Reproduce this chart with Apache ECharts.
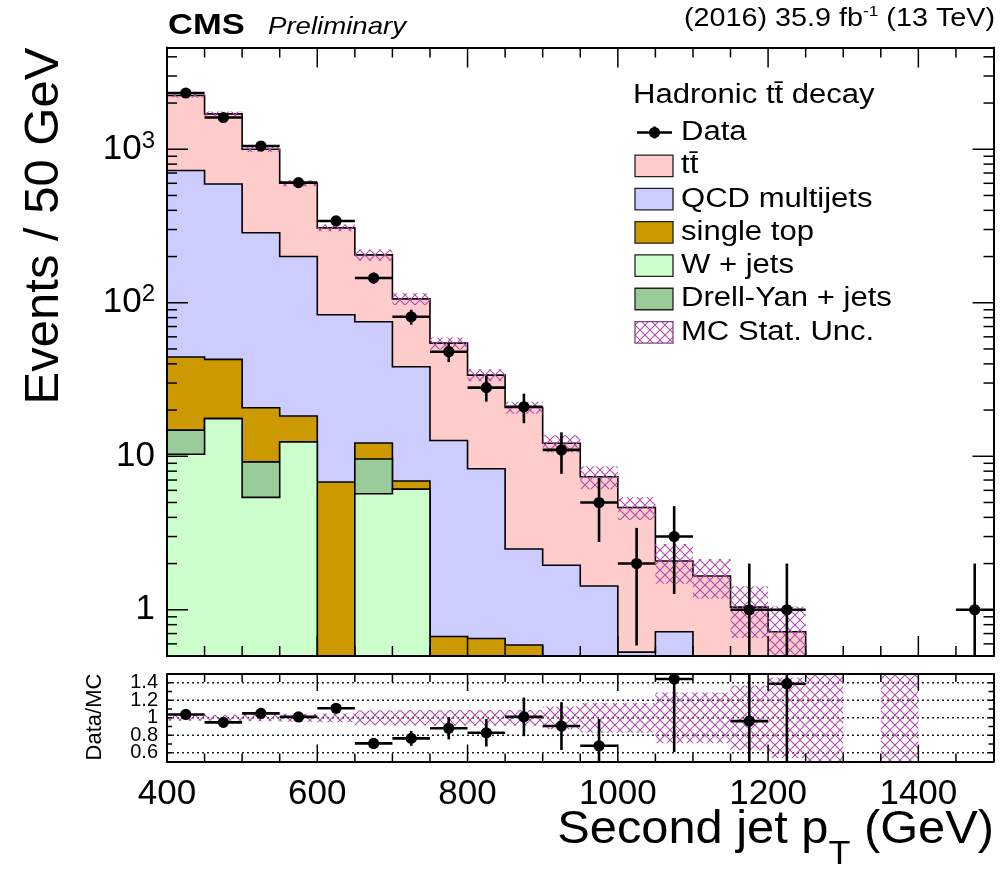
<!DOCTYPE html>
<html>
<head>
<meta charset="utf-8">
<title>Second jet pT</title>
<script src="https://cdn.jsdelivr.net/npm/echarts@6/dist/echarts.min.js"></script>
<style>
  html, body { margin: 0; padding: 0; background: #ffffff; }
  #chart { width: 1003px; height: 874px; }
</style>
</head>
<body>
<div id="chart"></div>
<script>
// ---------------------------------------------------------------------------
// Histogram content: 22 bins of 50 GeV from 400 to 1500 GeV
// ---------------------------------------------------------------------------
const binLow = [400, 450, 500, 550, 600, 650, 700, 750, 800, 850, 900,
                950, 1000, 1050, 1100, 1150, 1200, 1250, 1300, 1350, 1400, 1450];

// observed events per bin
const dataCounts = [2325, 1610, 1050, 606, 341, 145, 81, 48, 28, 21, 11,
                    5, 2, 3, 0, 1, 1, 0, 0, 0, 0, 1];

// simulated contributions (events per bin)
const ttbar     = [1514, 1106, 714, 400, 224, 130, 67.7, 41.9, 25.5, 18.3, 10.2,
                   5.92, 4.11, 1.36, 1.66, 1.04, 0.72, 0.25, 0, 0.25, 0, 0];
const qcd       = [682, 551, 265, 182, 76.8, 63, 31.4, 12.0, 7.65, 1.9, 1.95,
                   1.43, 0.53, 0.72, 0, 0, 0, 0, 0, 0, 0, 0];
const singleTop = [29.5, 25.2, 11.5, 5.9, 6.8, 2.6, 0.8, 0.67, 0.65, 0.59, 0,
                   0, 0, 0, 0, 0, 0, 0, 0, 0, 0, 0];
const wJets     = [10.3, 17.6, 5.4, 12.4, 0, 5.7, 6.1, 0, 0, 0, 0,
                   0, 0, 0, 0, 0, 0, 0, 0, 0, 0, 0];
const dyJets    = [4.5, 0, 3.8, 0, 0, 3.9, 0, 0, 0, 0, 0,
                   0, 0, 0, 0, 0, 0, 0, 0, 0, 0, 0];

// relative MC statistical uncertainty per bin
const mcStatRel = [0.033, 0.035, 0.04, 0.045, 0.05, 0.085, 0.088, 0.09, 0.09, 0.09, 0.13,
                   0.17, 0.17, 0.29, 0.29, 0.37, 0.46, 1.0, 0, 1.0, 0, 0];

// axis tick values and labels
const xLabelValues = [400, 600, 800, 1000, 1200, 1400];
const xMajorTicks  = [600, 800, 1000, 1200, 1400];
const xMinorTicks  = [450, 500, 550, 650, 700, 750, 850, 900, 950, 1050, 1100, 1150,
                      1250, 1300, 1350, 1450];
const yMajorTicks  = [1, 10, 100, 1000];
const yMinorTicks  = [0.6, 0.7, 0.8, 0.9, 2, 3, 4, 5, 6, 7, 8, 9, 20, 30, 40, 50, 60, 70, 80, 90,
                      200, 300, 400, 500, 600, 700, 800, 900, 2000, 3000, 4000];
const ratioTicks   = [0.6, 0.7, 0.8, 0.9, 1.0, 1.1, 1.2, 1.3, 1.4];
const ratioGrid    = [0.6, 0.8, 1.0, 1.2, 1.4];
const ratioLabels  = { 6: '0.6', 8: '0.8', 10: '1', 12: '1.2', 14: '1.4' };

// ---------------------------------------------------------------------------
const FONT = '"Liberation Sans", Arial, Helvetica, sans-serif';
const X_MIN = 400, X_MAX = 1500, BIN_W = 50;
const Y_MIN = 0.5, Y_MAX = 4600;
const R_MIN = 0.5, R_MAX = 1.5;
const HATCH = '#b04ab0';
const STRETCH = 1.15;   // width factor for the free-standing texts

// stack, from the bottom layer up
const stackLayers = [
  { name: 'W + jets',         values: wJets,     color: '#ccffcc' },
  { name: 'Drell-Yan + jets', values: dyJets,    color: '#99cc99' },
  { name: 'single top',       values: singleTop, color: '#cc9900' },
  { name: 'QCD multijets',    values: qcd,       color: '#ccccff' },
  { name: 't\u0074\u0304',    values: ttbar,     color: '#ffcccc' }
];
// legend order of the simulated samples
const legendOrder = ['t\u0074\u0304', 'QCD multijets', 'single top', 'W + jets', 'Drell-Yan + jets'];

let running = binLow.map(() => 0);
stackLayers.forEach(l => {
  running = running.map((s, i) => s + l.values[i]);
  l.cum = running.slice();
});
const mcTotal = stackLayers[stackLayers.length - 1].cum;

const clampY = v => Math.min(Math.max(v, Y_MIN), Y_MAX);
const clampR = v => Math.min(Math.max(v, R_MIN), R_MAX);

// cross-hatch tile for the MC statistical uncertainty
function makeHatch() {
  const c = document.createElement('canvas');
  c.width = 10; c.height = 10;
  const g = c.getContext('2d');
  g.strokeStyle = HATCH; g.lineWidth = 1.1;
  g.beginPath();
  g.moveTo(-1, -1); g.lineTo(11, 11);
  g.moveTo(11, -1); g.lineTo(-1, 11);
  g.stroke();
  return c;
}
const hatchFill = { image: makeHatch(), repeat: 'repeat' };

// ---------------------------------------------------------------------------
// render helpers
// ---------------------------------------------------------------------------
function renderLayer(params, api) {
  const layer = stackLayers[api.value(2)];
  const pts = [api.coord([X_MIN, Y_MIN])];
  binLow.forEach((lo, i) => {
    const v = clampY(layer.cum[i]);
    pts.push(api.coord([lo, v]));
    pts.push(api.coord([lo + BIN_W, v]));
  });
  pts.push(api.coord([X_MAX, Y_MIN]));
  return {
    type: 'group',
    children: [
      { type: 'polygon', shape: { points: pts }, style: { fill: layer.color } },
      { type: 'polyline', shape: { points: pts }, style: { stroke: '#000', lineWidth: 1.6, fill: null } }
    ]
  };
}

function renderUncMain(params, api) {
  const i = api.value(2);
  const t = mcTotal[i], u = mcStatRel[i];
  const top = clampY(t * (1 + u)), bot = clampY(t * (1 - u));
  if (top <= bot) return null;
  const p1 = api.coord([binLow[i], top]);
  const p2 = api.coord([binLow[i] + BIN_W, bot]);
  return { type: 'rect', shape: { x: p1[0], y: p1[1], width: p2[0] - p1[0], height: p2[1] - p1[1] },
           style: { fill: hatchFill } };
}

function renderUncRatio(params, api) {
  const i = api.value(2);
  const u = mcStatRel[i];
  const top = clampR(1 + u), bot = clampR(1 - u);
  const p1 = api.coord([binLow[i], top]);
  const p2 = api.coord([binLow[i] + BIN_W, bot]);
  return { type: 'rect', shape: { x: p1[0], y: p1[1], width: p2[0] - p1[0], height: p2[1] - p1[1] },
           style: { fill: hatchFill } };
}

function pointMarker(api, xc, lo, hi, y, yErrLo, yErrHi) {
  const pL = api.coord([lo, y]), pR = api.coord([hi, y]);
  const pC = api.coord([xc, y]);
  const pT = api.coord([xc, yErrHi]), pB = api.coord([xc, yErrLo]);
  const st = { stroke: '#000', lineWidth: 2.6 };
  return {
    type: 'group',
    children: [
      { type: 'line', shape: { x1: pL[0], y1: pL[1], x2: pR[0], y2: pR[1] }, style: st },
      { type: 'line', shape: { x1: pT[0], y1: pT[1], x2: pB[0], y2: pB[1] }, style: st },
      { type: 'circle', shape: { cx: pC[0], cy: pC[1], r: 5.6 }, style: { fill: '#000' } }
    ]
  };
}

function renderData(params, api) {
  const i = api.value(2);
  const n = dataCounts[i], e = Math.sqrt(n);
  const lo = binLow[i];
  return pointMarker(api, lo + BIN_W / 2, lo, lo + BIN_W, n, clampY(n - e), clampY(n + e));
}

function renderRatio(params, api) {
  const i = api.value(2);
  const n = dataCounts[i];
  const r = n / mcTotal[i], e = r / Math.sqrt(n);
  const lo = binLow[i];
  return pointMarker(api, lo + BIN_W / 2, lo, lo + BIN_W, r, clampR(r - e), clampR(r + e));
}

function frameTicks(api, o) {
  const lines = [];
  const st = { stroke: '#000', lineWidth: 1.5 };
  const add = (x1, y1, x2, y2) => lines.push({ type: 'line', shape: { x1, y1, x2, y2 }, style: st });
  const bl = api.coord([X_MIN, o.yMin]), tr = api.coord([X_MAX, o.yMax]);
  [[o.xMajor, o.xLenMajor], [o.xMinor, o.xLenMinor]].forEach(([vals, len]) => vals.forEach(v => {
    const x = api.coord([v, o.yMin])[0];
    add(x, bl[1], x, bl[1] - len);
    add(x, tr[1], x, tr[1] + len);
  }));
  [[o.yMajor, o.yLenMajor], [o.yMinor, o.yLenMinor]].forEach(([vals, len]) => vals.forEach(v => {
    const y = api.coord([X_MIN, v])[1];
    add(bl[0], y, bl[0] + len, y);
    add(tr[0], y, tr[0] - len, y);
  }));
  return { type: 'group', children: lines };
}

function renderRatioGrid(params, api) {
  const v = api.value(1);
  const a = api.coord([X_MIN, v]), b = api.coord([X_MAX, v]);
  return { type: 'line', shape: { x1: a[0], y1: a[1], x2: b[0], y2: b[1] },
           style: { stroke: '#222', lineWidth: 1.4, lineDash: [2, 3] } };
}

// ---------------------------------------------------------------------------
// free texts (header, titles, legend)
// ---------------------------------------------------------------------------
const mctx = document.createElement('canvas').getContext('2d');
function textW(str, font) { mctx.font = font; return mctx.measureText(str).width; }

function txt(x, y, text, font, align, stretch) {
  return {
    type: 'text', x: x, y: y, scaleX: stretch || STRETCH, silent: true,
    style: { text: text, font: font, fill: '#000', align: align || 'left', textAlign: align || 'left',
             verticalAlign: 'middle', textVerticalAlign: 'middle' }
  };
}

const graphics = [];

// header
graphics.push(txt(168, 26, 'CMS', 'bold 30px ' + FONT));
graphics.push(txt(268, 27, 'Preliminary', 'italic 24px ' + FONT));
(function () {
  const fMain = '25px ' + FONT, fSup = '15px ' + FONT;
  const a = '(2016) 35.9 fb', s = '-1', b = ' (13 TeV)';
  const wa = textW(a, fMain) * STRETCH, ws = textW(s, fSup) * STRETCH, wb = textW(b, fMain) * STRETCH;
  const right = 995, x0 = right - wa - ws - wb;
  graphics.push(txt(x0, 19, a, fMain));
  graphics.push(txt(x0 + wa, 12, s, fSup));
  graphics.push(txt(x0 + wa + ws, 19, b, fMain));
})();

// axis titles
graphics.push({
  type: 'text', x: 44, y: 226, rotation: Math.PI / 2, silent: true,
  style: { text: 'Events / 50 GeV', font: '49px ' + FONT, fill: '#000',
           align: 'center', textAlign: 'center', verticalAlign: 'middle', textVerticalAlign: 'middle' }
});
graphics.push({
  type: 'text', x: 95, y: 717, rotation: Math.PI / 2, silent: true,
  style: { text: 'Data/MC', font: '22px ' + FONT, fill: '#000',
           align: 'center', textAlign: 'center', verticalAlign: 'middle', textVerticalAlign: 'middle' }
});
(function () {
  const k = 1.06;
  const fMain = '46px ' + FONT, fSub = '34px ' + FONT;
  const a = 'Second jet p', s = 'T', b = ' (GeV)';
  const wa = textW(a, fMain) * k, ws = textW(s, fSub) * k, wb = textW(b, fMain) * k;
  const right = 994, x0 = right - wa - ws - wb;
  graphics.push(txt(x0, 830, a, fMain, 'left', k));
  graphics.push(txt(x0 + wa, 855, s, fSub, 'left', k));
  graphics.push(txt(x0 + wa + ws, 830, b, fMain, 'left', k));
})();

// legend
(function () {
  const fL = '27px ' + FONT;
  const boxX = 635, boxW = 38, boxH = 21.5, textX = 681;
  graphics.push(txt(633, 96, 'Hadronic t\u0074\u0304 decay', fL));
  const rowY0 = 132.5, dy = 33.3;
  // data entry
  graphics.push({ type: 'line', silent: true, shape: { x1: 637, y1: rowY0, x2: 672, y2: rowY0 },
                  style: { stroke: '#000', lineWidth: 2.6 } });
  graphics.push({ type: 'line', silent: true, shape: { x1: 654.5, y1: rowY0 - 6, x2: 654.5, y2: rowY0 + 6 },
                  style: { stroke: '#000', lineWidth: 2.6 } });
  graphics.push({ type: 'circle', silent: true, shape: { cx: 654.5, cy: rowY0, r: 5.6 }, style: { fill: '#000' } });
  graphics.push(txt(textX, rowY0, 'Data', fL));
  const entries = legendOrder.map(name => {
    const l = stackLayers.find(s => s.name === name);
    return { name: l.name, fill: l.color, stroke: '#222' };
  });
  entries.push({ name: 'MC Stat. Unc.', fill: hatchFill, stroke: '#7a4a7a' });
  entries.forEach((e, k) => {
    const cy = rowY0 + dy * (k + 1);
    graphics.push({ type: 'rect', silent: true,
                    shape: { x: boxX, y: cy - boxH / 2, width: boxW, height: boxH },
                    style: { fill: e.fill, stroke: e.stroke, lineWidth: 1.3 } });
    graphics.push(txt(textX, cy, e.name, fL));
  });
})();

// ---------------------------------------------------------------------------
// chart
// ---------------------------------------------------------------------------
const axisLineStyle = { show: true, onZero: false, lineStyle: { color: '#000', width: 2 } };
const bareX = (grid, pos) => ({
  type: 'value', gridIndex: grid, position: pos, min: X_MIN, max: X_MAX, interval: 200, z: 10,
  axisLine: axisLineStyle, axisTick: { show: false }, axisLabel: { show: false }, splitLine: { show: false }
});

const chart = echarts.init(document.getElementById('chart'), null, { renderer: 'canvas' });
const binIdx = binLow.map((lo, i) => i);

chart.setOption({
  animation: false,
  backgroundColor: '#ffffff',
  grid: [
    { left: 167, right: 9.5, top: 47.5, height: 608.5 },
    { left: 167, right: 9.5, top: 674, height: 87.5 }
  ],
  xAxis: [
    bareX(0, 'bottom'),
    bareX(0, 'top'),
    Object.assign(bareX(1, 'bottom'), {
      axisLabel: {
        show: true, margin: 15, color: '#000', fontSize: 35, fontFamily: FONT,
        formatter: v => (xLabelValues.indexOf(v) >= 0 ? String(v) : '')
      }
    }),
    bareX(1, 'top')
  ],
  yAxis: [
    {
      type: 'log', gridIndex: 0, position: 'left', min: Y_MIN, max: Y_MAX, z: 10,
      axisLine: axisLineStyle, axisTick: { show: false }, splitLine: { show: false },
      axisLabel: {
        show: true, margin: 12, color: '#000', showMinLabel: false, showMaxLabel: false,
        formatter: v => {
          const l = Math.log10(v), e = Math.round(l);
          if (Math.abs(l - e) > 1e-6 || yMajorTicks.indexOf(Math.pow(10, e)) < 0) return '';
          if (e === 0) return '{b|1}';
          if (e === 1) return '{b|10}';
          return '{b|10}{s|' + e + '}';
        },
        rich: {
          b: { fontSize: 35, fontFamily: FONT, color: '#000', lineHeight: 40 },
          s: { fontSize: 24, fontFamily: FONT, color: '#000', verticalAlign: 'top', lineHeight: 24 }
        }
      }
    },
    {
      type: 'log', gridIndex: 0, position: 'right', min: Y_MIN, max: Y_MAX, z: 10,
      axisLine: axisLineStyle, axisTick: { show: false }, axisLabel: { show: false }, splitLine: { show: false }
    },
    {
      type: 'value', gridIndex: 1, position: 'left', min: R_MIN, max: R_MAX, interval: 0.1, z: 10,
      axisLine: axisLineStyle, axisTick: { show: false }, splitLine: { show: false },
      axisLabel: {
        show: true, margin: 9, color: '#000', fontSize: 20, fontFamily: FONT,
        formatter: v => ratioLabels[Math.round(v * 10)] || ''
      }
    },
    {
      type: 'value', gridIndex: 1, position: 'right', min: R_MIN, max: R_MAX, interval: 0.1, z: 10,
      axisLine: axisLineStyle, axisTick: { show: false }, axisLabel: { show: false }, splitLine: { show: false }
    }
  ],
  graphic: { elements: graphics },
  series: [
    // stacked backgrounds, drawn from the top layer down
    {
      type: 'custom', name: 'stack', xAxisIndex: 0, yAxisIndex: 0, silent: true, z: 2,
      renderItem: renderLayer,
      data: stackLayers.map((l, k) => [X_MIN, 1, k]).reverse()
    },
    {
      type: 'custom', name: 'MC Stat. Unc.', xAxisIndex: 0, yAxisIndex: 0, silent: true, z: 3,
      renderItem: renderUncMain,
      data: binIdx.filter(i => mcStatRel[i] > 0 && mcTotal[i] > 0).map(i => [binLow[i] + BIN_W / 2, 1, i])
    },
    {
      type: 'custom', name: 'Data', xAxisIndex: 0, yAxisIndex: 0, silent: true, z: 5,
      renderItem: renderData,
      data: binIdx.filter(i => dataCounts[i] > 0).map(i => [binLow[i] + BIN_W / 2, dataCounts[i], i])
    },
    {
      type: 'custom', name: 'ticks-main', xAxisIndex: 0, yAxisIndex: 0, silent: true, z: 9,
      renderItem: (p, api) => frameTicks(api, {
        yMin: Y_MIN, yMax: Y_MAX, xMajor: xMajorTicks, xMinor: xMinorTicks, xLenMajor: 20, xLenMinor: 10,
        yMajor: yMajorTicks, yMinor: yMinorTicks, yLenMajor: 21, yLenMinor: 10
      }),
      data: [[X_MIN, 1, 0]]
    },
    // ratio panel
    {
      type: 'custom', name: 'ratio-grid', xAxisIndex: 2, yAxisIndex: 2, silent: true, z: 1,
      renderItem: renderRatioGrid,
      data: ratioGrid.map(v => [X_MIN, v])
    },
    {
      type: 'custom', name: 'ratio-unc', xAxisIndex: 2, yAxisIndex: 2, silent: true, z: 3,
      renderItem: renderUncRatio,
      data: binIdx.filter(i => mcStatRel[i] > 0).map(i => [binLow[i] + BIN_W / 2, 1, i])
    },
    {
      type: 'custom', name: 'ratio', xAxisIndex: 2, yAxisIndex: 2, silent: true, z: 5,
      renderItem: renderRatio,
      data: binIdx.filter(i => {
        if (dataCounts[i] <= 0 || mcTotal[i] <= 0) return false;
        const r = dataCounts[i] / mcTotal[i];
        return r >= R_MIN && r <= R_MAX;
      }).map(i => [binLow[i] + BIN_W / 2, dataCounts[i] / mcTotal[i], i])
    },
    {
      type: 'custom', name: 'ticks-ratio', xAxisIndex: 2, yAxisIndex: 2, silent: true, z: 9,
      renderItem: (p, api) => frameTicks(api, {
        yMin: R_MIN, yMax: R_MAX, xMajor: xMajorTicks, xMinor: xMinorTicks, xLenMajor: 17, xLenMinor: 8,
        yMajor: ratioTicks, yMinor: [], yLenMajor: 5, yLenMinor: 5
      }),
      data: [[X_MIN, 1, 0]]
    }
  ]
});
</script>
</body>
</html>
